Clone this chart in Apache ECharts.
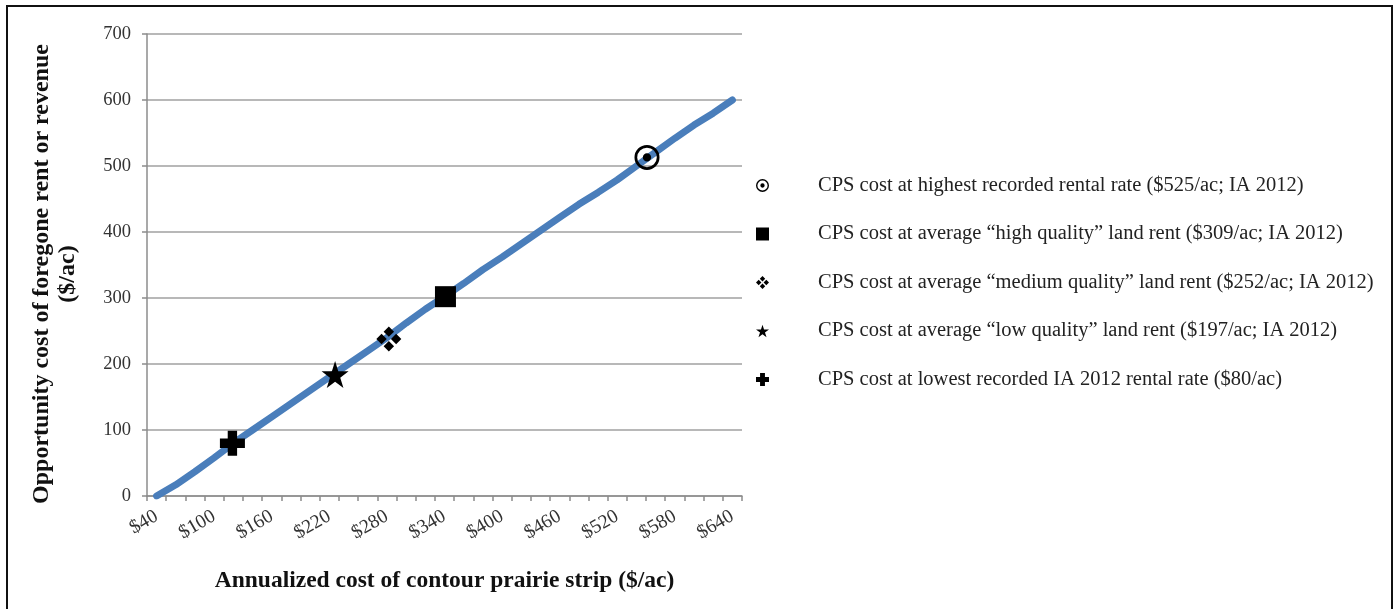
<!DOCTYPE html>
<html>
<head>
<meta charset="utf-8">
<script src="https://cdn.jsdelivr.net/npm/echarts@6/dist/echarts.min.js"></script>
<style>
  html, body { margin: 0; padding: 0; background: #fff; }
  #chart { position: absolute; left: 0; top: 0; width: 1395px; height: 609px; }
  #frame { position: absolute; left: 6px; top: 5px; width: 1383px; height: 700px; border: 2px solid #111; pointer-events: none; }
</style>
</head>
<body>
<div id="chart"></div>
<div id="frame"></div>
<script>
// ---- data ----
const categories = ['$40','$60','$80','$100','$120','$140','$160','$180','$200','$220','$240','$260','$280','$300','$320','$340','$360','$380','$400','$420','$440','$460','$480','$500','$520','$540','$560','$580','$600','$620','$640'];
const lineValues = [0,17,37,58,80,100,120,140,160,180,200,220,240,262,283,302,322,343,362,382,402,422,442,460,479,500,521,542,562,580,600];
const yTicks = [0,100,200,300,400,500,600,700];

const pointNames = [
  'CPS cost at highest recorded rental rate ($525/ac; IA 2012)',
  'CPS cost at average “high quality” land rent ($309/ac; IA 2012)',
  'CPS cost at average “medium quality” land rent ($252/ac; IA 2012)',
  'CPS cost at average “low quality” land rent ($197/ac; IA 2012)',
  'CPS cost at lowest recorded IA 2012 rental rate ($80/ac)'
];
const pointX = [551, 341, 282, 226, 119];
const pointY = [513, 302, 238, 184, 80];

// ---- symbols ----
const symRingDot = 'path://M12,0 A12,12 0 1,1 12,24 A12,12 0 1,1 12,0 Z M12,2.6 A9.4,9.4 0 1,0 12,21.4 A9.4,9.4 0 1,0 12,2.6 Z M12,8 A4,4 0 1,1 12,16 A4,4 0 1,1 12,8 Z';
const symDiamonds = 'path://M12,0 L17,5 L12,10 L7,5 Z M12,14 L17,19 L12,24 L7,19 Z M0,12 L5,7 L10,12 L5,17 Z M14,12 L19,7 L24,12 L19,17 Z';
const symStar = 'path://M12,0 L14.69,8.29 L23.41,8.29 L16.36,13.42 L19.05,21.71 L12,16.58 L4.95,21.71 L7.64,13.42 L0.59,8.29 L9.31,8.29 Z';
const symPlus = 'path://M7.5,0 L16.5,0 L16.5,7.5 L24,7.5 L24,16.5 L16.5,16.5 L16.5,24 L7.5,24 L7.5,16.5 L0,16.5 L0,7.5 L7.5,7.5 Z';
const symbols = [symRingDot, 'rect', symDiamonds, symStar, symPlus];
const sizes = [25, 21, 25, 27, 25];

const serif = '"Liberation Serif", "Times New Roman", serif';

const chart = echarts.init(document.getElementById('chart'));

const scatterSeries = pointNames.map((n, i) => ({
  name: n,
  type: 'scatter',
  xAxisIndex: 1,
  yAxisIndex: 0,
  symbol: symbols[i],
  symbolSize: sizes[i],
  itemStyle: { color: '#000', opacity: 1 },
  z: 5,
  data: [[pointX[i], pointY[i]]]
}));

const option = {
  animation: false,
  backgroundColor: 'transparent',
  grid: { left: 147, top: 34, right: 653, bottom: 113, containLabel: false },
  legend: {
    orient: 'vertical',
    left: 751,
    top: 170,
    itemWidth: 13,
    itemHeight: 13,
    itemGap: 27.5,
    data: pointNames.map((n, i) => ({ name: n, icon: symbols[i] })),
    textStyle: { fontFamily: serif, fontSize: 20.5, color: '#222', padding: [0, 0, 0, 44], lineHeight: 20 },
    selectedMode: false
  },
  xAxis: [
    {
      type: 'category',
      data: categories,
      boundaryGap: true,
      axisLine: { show: true, lineStyle: { color: '#8c8c8c', width: 1.5 } },
      axisTick: { show: true, interval: 0, length: 5, lineStyle: { color: '#8c8c8c', width: 1.5 } },
      axisLabel: { interval: 2, rotate: 30, margin: 19, fontFamily: serif, fontSize: 19.5, color: '#333' },
      splitLine: { show: false },
      name: 'Annualized cost of contour prairie strip ($/ac)',
      nameLocation: 'middle',
      nameGap: 73,
      nameTextStyle: { fontFamily: serif, fontSize: 23.5, fontWeight: 'bold', color: '#111' }
    },
    {
      type: 'value',
      min: 30,
      max: 650,
      show: false,
      position: 'bottom'
    }
  ],
  yAxis: {
    type: 'value',
    min: yTicks[0],
    max: yTicks[yTicks.length - 1],
    interval: 100,
    axisLine: { show: true, lineStyle: { color: '#8c8c8c', width: 1.5 } },
    axisTick: { show: true, length: 5, lineStyle: { color: '#8c8c8c', width: 1.5 } },
    axisLabel: { margin: 16, fontFamily: serif, fontSize: 18.5, color: '#333' },
    splitLine: { show: true, lineStyle: { color: '#a0a0a0', width: 1.5 } },
    name: 'Opportunity cost of foregone rent or revenue\n($/ac)',
    nameLocation: 'middle',
    nameGap: 66,
    nameTextStyle: { fontFamily: serif, fontSize: 24, fontWeight: 'bold', color: '#111', lineHeight: 26, padding: [0, 18, 0, 0] }
  },
  series: [
    {
      name: 'line',
      type: 'line',
      xAxisIndex: 0,
      yAxisIndex: 0,
      data: lineValues,
      showSymbol: false,
      symbol: 'none',
      lineStyle: { color: '#4a7ebb', width: 7, cap: 'round', join: 'round' },
      z: 2
    }
  ].concat(scatterSeries)
};

chart.setOption(option);
</script>
</body>
</html>
